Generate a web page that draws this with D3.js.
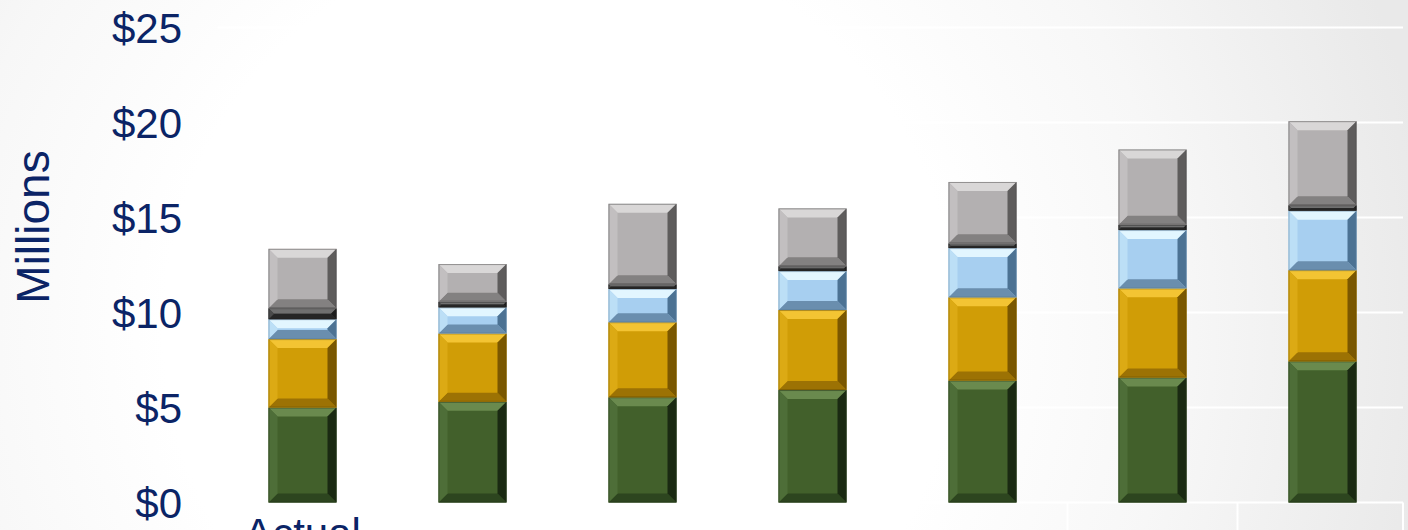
<!DOCTYPE html>
<html><head><meta charset="utf-8">
<script src="https://cdn.jsdelivr.net/npm/d3@7"></script>
<style>html,body{margin:0;padding:0;overflow:hidden;background:#fff}svg{display:block}</style>
</head><body>
<svg id="chart" width="1408" height="530"></svg>
<script>
// ---- data ----
const categories = ["Actual", "", "", "", "", "", ""];
const seriesNames = ["Green", "Gold", "Light Blue", "Dark Gray", "Gray"];
const greenVals  = [5.00, 5.30, 5.54, 5.92, 6.42, 6.58, 7.43];
const goldVals   = [3.60, 3.60, 3.95, 4.21, 4.38, 4.69, 4.80];
const blueVals   = [1.05, 1.37, 1.75, 2.05, 2.59, 3.07, 3.13];
const darkVals   = [0.58, 0.30, 0.25, 0.26, 0.25, 0.28, 0.29];
const grayVals   = [3.12, 1.98, 4.23, 3.04, 3.23, 3.96, 4.42];
const yTicks = [0, 5, 10, 15, 20, 25];
const yTitle = "Millions";

// ---- build ----
const W = 1408, H = 530;
const svg = d3.select("#chart");
const defs = svg.append("defs");

const bg = defs.append("radialGradient").attr("id","bg")
  .attr("gradientUnits","userSpaceOnUse").attr("cx",560).attr("cy",330).attr("r",880);
bg.append("stop").attr("offset","0").attr("stop-color","#ffffff");
bg.append("stop").attr("offset","0.45").attr("stop-color","#ffffff");
bg.append("stop").attr("offset","0.7").attr("stop-color","#f7f7f7");
bg.append("stop").attr("offset","1").attr("stop-color","#e9e9e9");
svg.append("rect").attr("width",W).attr("height",H).attr("fill","url(#bg)");

const seriesData = [greenVals, goldVals, blueVals, darkVals, grayVals];
const rows = categories.map((c,i)=>{
  const r = {cat: i};
  seriesNames.forEach((s,j)=> r[s] = seriesData[j][i]);
  return r;
});
const stacked = d3.stack().keys(seriesNames)(rows);

const x = d3.scaleBand().domain(d3.range(categories.length))
  .range([217.5, 1407.5]).paddingInner(0.6).paddingOuter(0.3);
const y = d3.scaleLinear().domain([0, 25]).range([502.5, 27.5]);

const textColor = "#0b2466";

// gridlines (white)
svg.append("g").selectAll("line").data(yTicks).join("line")
  .attr("x1", 217.5).attr("x2", 1403)
  .attr("y1", d=>y(d)).attr("y2", d=>y(d))
  .attr("stroke","#ffffff").attr("stroke-width",2);
// category separators (white)
const bounds = d3.range(categories.length+1).map(i=> 217.5 + i*x.step());
svg.append("g").selectAll("line").data(bounds.slice(1)).join("line")
  .attr("x1", d=>Math.min(d,1403)).attr("x2", d=>Math.min(d,1403))
  .attr("y1", y(0)).attr("y2", H)
  .attr("stroke","#ffffff").attr("stroke-width",2);

// y axis labels
const yAxis = d3.axisLeft(y).tickValues(yTicks).tickSize(0).tickPadding(0)
  .tickFormat(d=>"$"+d);
const ya = svg.append("g").attr("transform","translate(182,0)").call(yAxis);
ya.select(".domain").remove();
ya.selectAll("text").attr("fill",textColor).attr("font-size",42)
  .attr("font-family","Liberation Sans, Arial, sans-serif").attr("dy","0.35em");

svg.append("text").attr("transform","translate(32,227) rotate(-90)")
  .attr("text-anchor","middle").attr("dy","0.36em")
  .attr("fill",textColor).attr("font-size",46)
  .attr("font-family","Liberation Sans, Arial, sans-serif").text(yTitle);

// x labels
const xAxis = d3.axisBottom(x).tickSize(0).tickPadding(0).tickFormat(i=>categories[i]);
const xa = svg.append("g").attr("transform",`translate(0,${y(0)})`).call(xAxis);
xa.select(".domain").remove();
xa.selectAll("text").attr("fill",textColor).attr("font-size",42)
  .attr("font-family","Liberation Sans, Arial, sans-serif").attr("dy","0").attr("y",45);

// bevel palettes: center, top, left, right, bottom, edge
const pal = {
  "Green":      {c:"#42602b", t:"#6a8a4e", l:"#4e6e38", r:"#1a2912", b:"#2d451f", e:"#22331a"},
  "Gold":       {c:"#d09d06", t:"#f3c433", l:"#dcaa14", r:"#7a5700", b:"#9c7204", e:"#6e5000"},
  "Light Blue": {c:"#a7cff0", t:"#e2f6ff", l:"#bcdff6", r:"#4c7293", b:"#6a8eae", e:"#5a7e9c"},
  "Dark Gray":  {c:"#3e3e3e", t:"#707070", l:"#4a4a4a", r:"#1c1c1c", b:"#262626", e:"#222222"},
  "Gray":       {c:"#b3b0b1", t:"#d9d7d7", l:"#c2bfc0", r:"#5e5c5c", b:"#838181", e:"#4e4c4c"}
};

stacked.forEach(layer=>{
  const p = pal[layer.key];
  const g = svg.append("g");
  layer.forEach((d,i)=>{
    const x0 = x(i), x1 = x(i)+x.bandwidth();
    const y0 = y(d[1]), y1 = y(d[0]);
    const h = y1 - y0, w = x1 - x0;
    const bv = Math.min(9, h/2, w/2);
    const seg = g.append("g");
    seg.append("rect").attr("x",x0).attr("y",y0).attr("width",w).attr("height",h).attr("fill",p.c);
    const pts = a => a.map(q=>q.join(",")).join(" ");
    seg.append("polygon").attr("points",pts([[x0,y0],[x1,y0],[x1-bv,y0+bv],[x0+bv,y0+bv]])).attr("fill",p.t);
    seg.append("polygon").attr("points",pts([[x0,y1],[x1,y1],[x1-bv,y1-bv],[x0+bv,y1-bv]])).attr("fill",p.b);
    seg.append("polygon").attr("points",pts([[x0,y0],[x0+bv,y0+bv],[x0+bv,y1-bv],[x0,y1]])).attr("fill",p.l);
    seg.append("polygon").attr("points",pts([[x1,y0],[x1-bv,y0+bv],[x1-bv,y1-bv],[x1,y1]])).attr("fill",p.r);
    seg.append("rect").attr("x",x0+0.5).attr("y",y0+0.5).attr("width",w-1).attr("height",Math.max(0,h-1))
      .attr("fill","none").attr("stroke",p.e).attr("stroke-opacity",0.5).attr("stroke-width",1);
  });
});
</script>
</body></html>
